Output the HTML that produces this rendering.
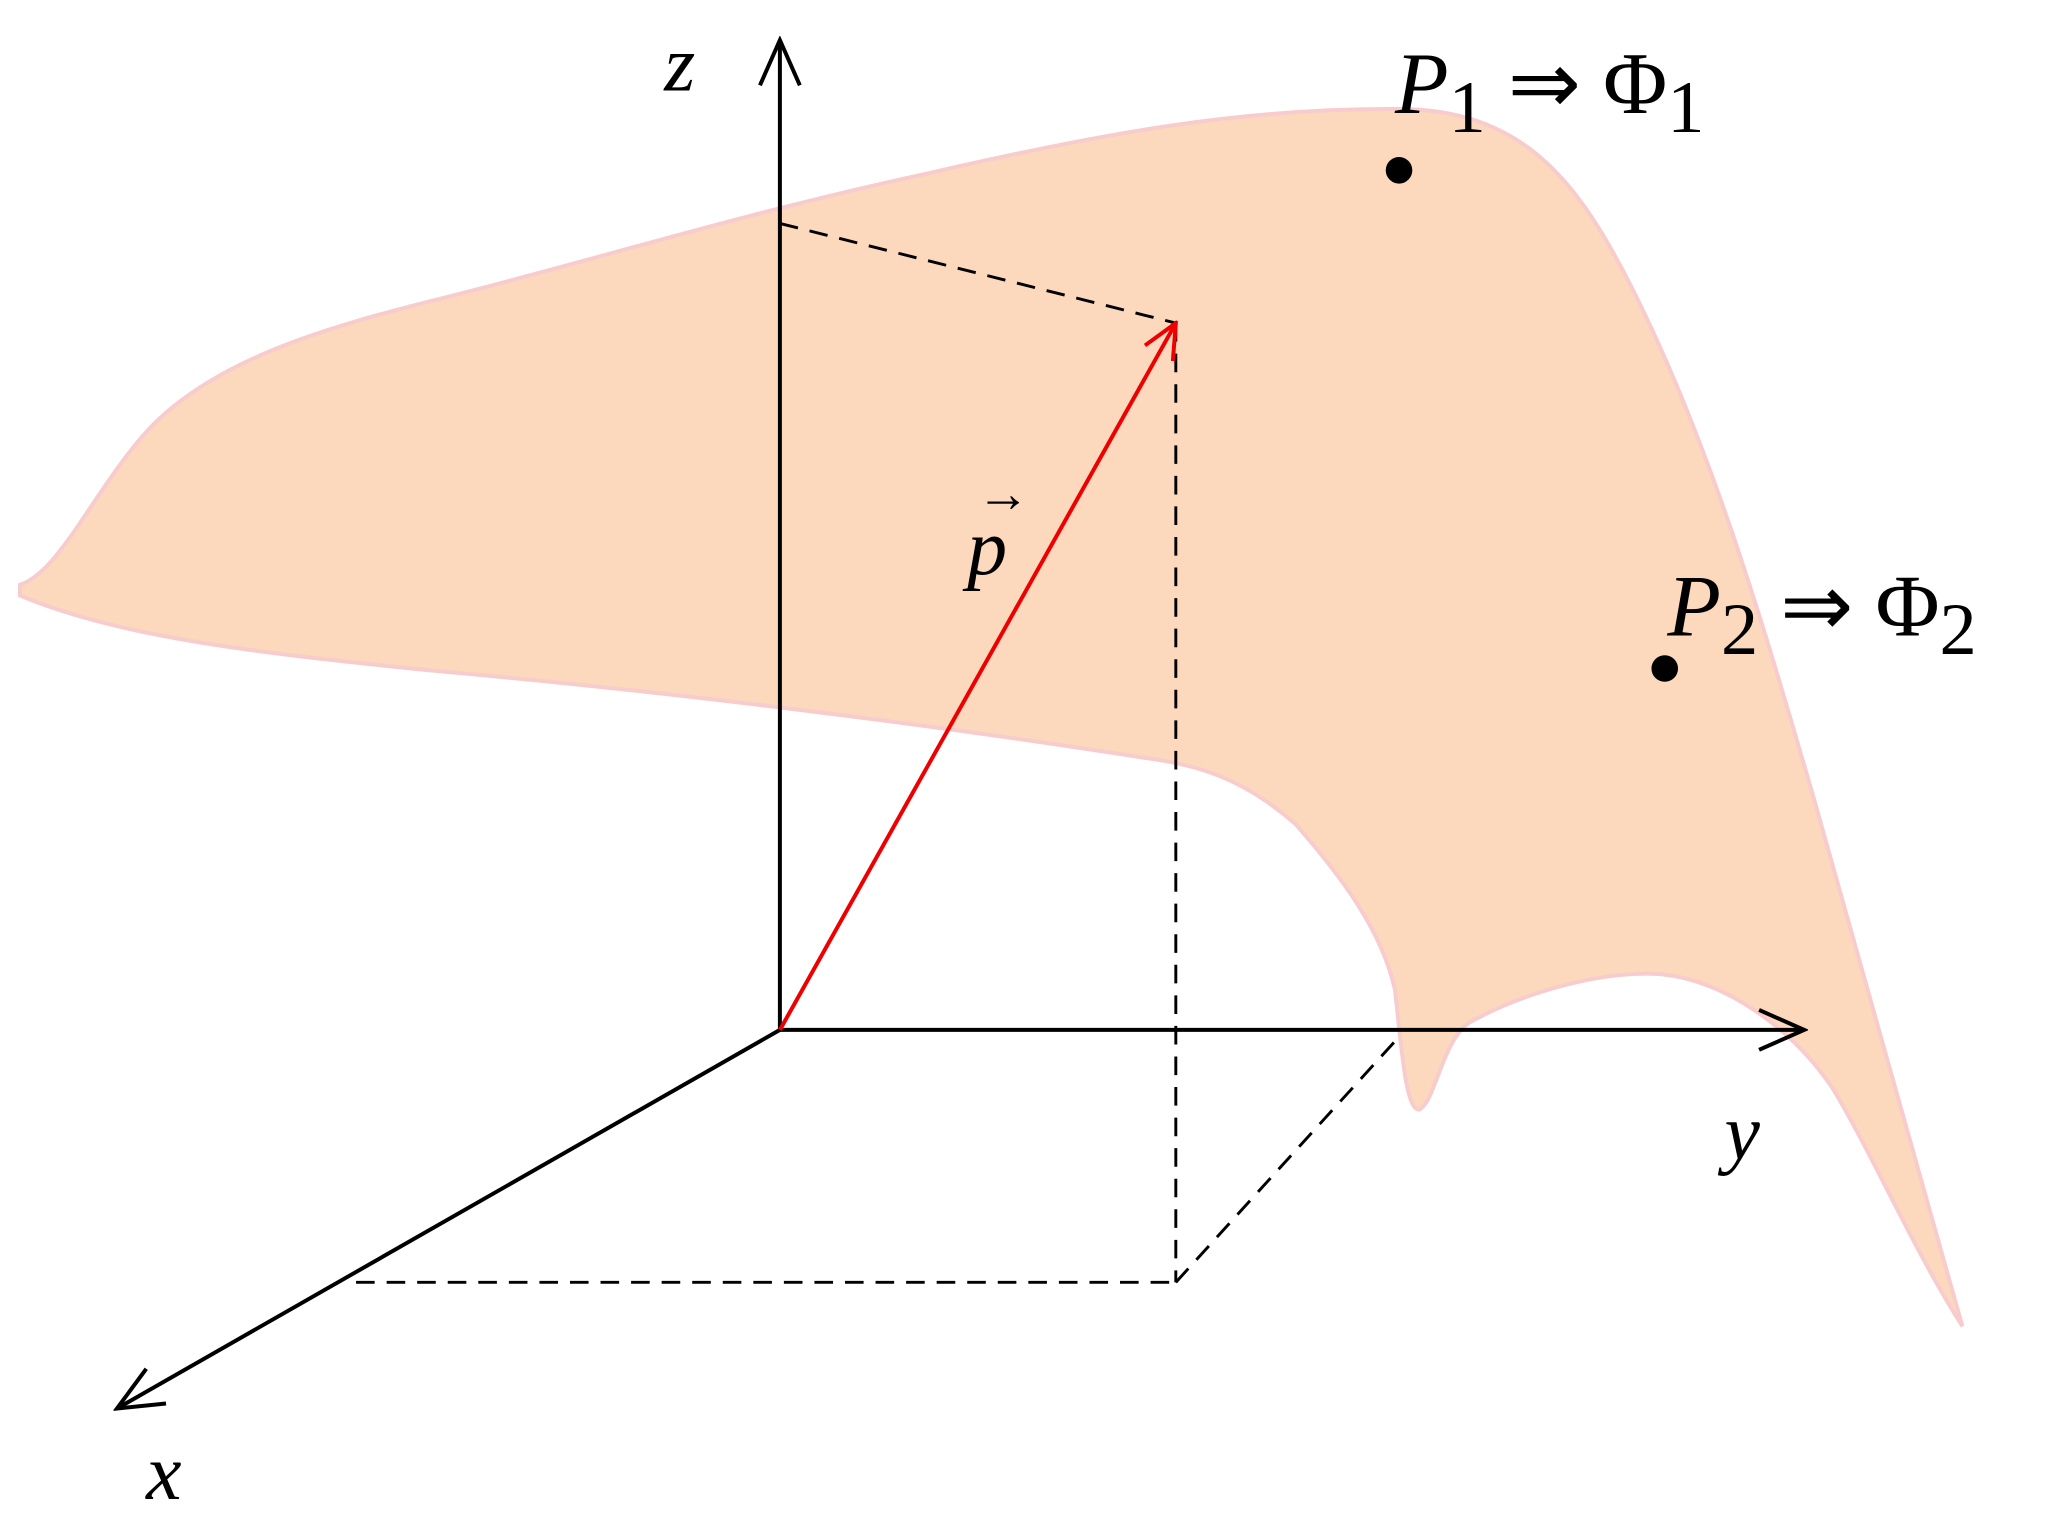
<!DOCTYPE html>
<html><head><meta charset="utf-8"><style>
html,body{margin:0;padding:0;background:#fff;}
svg{display:block;}
text{font-family:"Liberation Serif",serif;font-style:italic;fill:#000;}
</style></head><body>
<svg width="2062" height="1535" viewBox="0 0 1552 1155" xmlns="http://www.w3.org/2000/svg">
<defs>
<marker id="ab" markerWidth="14" markerHeight="14" refX="12" refY="7" orient="auto" markerUnits="userSpaceOnUse" viewBox="0 0 14 14"><path d="M0,0 L13,7 L0,14" fill="none" stroke="#000" stroke-width="2.5"/></marker>
<marker id="ar" markerWidth="30" markerHeight="30" refX="28" refY="15" orient="auto" markerUnits="userSpaceOnUse" viewBox="0 0 30 30"><path d="M2,3 L28,15 L2,27" fill="none" stroke="#e00" stroke-width="3"/></marker>
<marker id="ak" markerWidth="40" markerHeight="40" refX="37" refY="20" orient="auto" markerUnits="userSpaceOnUse" viewBox="0 0 40 40"><path d="M3,5 L37,20 L3,35" fill="none" stroke="#000" stroke-width="3"/></marker>
</defs>
<path d="M15,440 C45,430 70,370 110,325 C160,270 250,245 330,225 C450,195 560,160 700,130 C830,100 940,80 1060,82 C1150,85 1190,140 1230,220 C1290,340 1330,480 1365,600 C1400,720 1440,870 1477,998 C1440,940 1410,870 1380,820 C1350,775 1300,738 1250,733 C1200,730 1140,750 1105,770 C1085,785 1080,830 1068,835 C1058,835 1055,790 1050,745 C1040,700 1010,660 975,620 C935,585 900,575 860,570 C700,545 500,520 330,505 C200,492 90,480 15,448 Z" fill="#fcd8bd" stroke="#f8cccc" stroke-width="3"/>
<g stroke="#000" stroke-width="2.2" stroke-dasharray="14,9" fill="none">
<line x1="587" y1="168" x2="885" y2="243"/>
<line x1="885" y1="243" x2="885" y2="965"/>
<line x1="268" y1="965" x2="885" y2="965"/>
<line x1="885" y1="965" x2="1055" y2="778"/>
</g>
<g stroke="#000" stroke-width="3" fill="none">
<line x1="587" y1="775" x2="587" y2="30" marker-end="url(#ak)"/>
<line x1="587" y1="775" x2="1358" y2="775" marker-end="url(#ak)"/>
<line x1="587" y1="775" x2="88" y2="1060" marker-end="url(#ak)"/>
</g>
<line x1="587" y1="775" x2="885" y2="243" stroke="#e00" stroke-width="3" marker-end="url(#ar)"/>
<circle cx="1053" cy="128" r="10" fill="#000"/>
<circle cx="1253" cy="503" r="10" fill="#000"/>
<text x="500" y="68" font-size="60">z</text>
<text x="1298" y="872" font-size="60">y</text>
<text x="110" y="1128" font-size="60">x</text>
<text x="728" y="432" font-size="60">p</text>
<text x="735" y="385" font-size="40" font-style="normal">→</text>
<text x="1050" y="85" font-size="66">P<tspan font-style="normal" font-size="56" dy="14">1</tspan><tspan font-style="normal" dy="-14"> ⇒ Φ</tspan><tspan font-style="normal" font-size="56" dy="14">1</tspan></text>
<text x="1255" y="478" font-size="66">P<tspan font-style="normal" font-size="56" dy="14">2</tspan><tspan font-style="normal" dy="-14"> ⇒ Φ</tspan><tspan font-style="normal" font-size="56" dy="14">2</tspan></text>
</svg>
</body></html>
